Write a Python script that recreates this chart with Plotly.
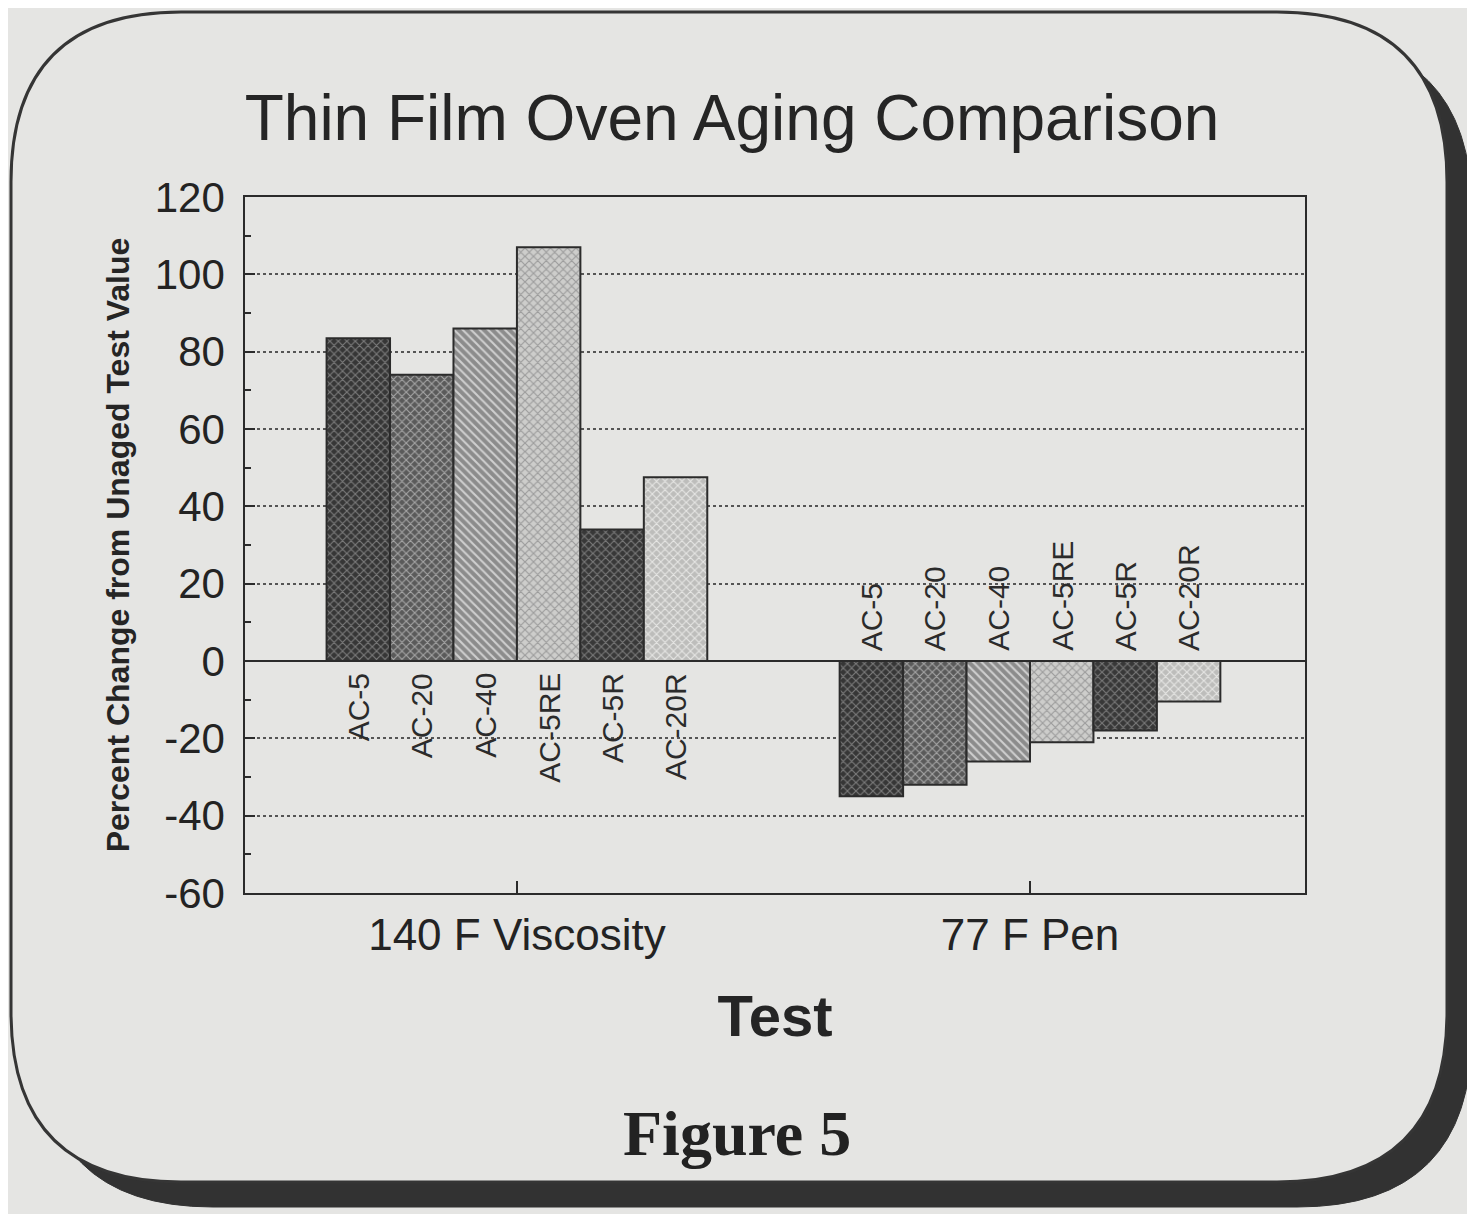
import plotly.graph_objects as go

# ---- data ----
tests = ["140 F Viscosity", "77 F Pen"]
materials = ["AC-5", "AC-20", "AC-40", "AC-5RE", "AC-5R", "AC-20R"]
viscosity_change = [83.5, 74, 86, 107, 34, 47.5]
pen_change = [-35, -32, -26, -21, -18, -10.5]
y_ticks = [120, 100, 80, 60, 40, 20, 0, -20, -40, -60]

# ---- layout geometry (page pixels; the page body adds an 8px offset) ----
OFF = 8
W, H = 1475 - OFF, 1214 - OFF
PL, PR, PT, PB = 245, 1305, 197, 893          # plot area in page pixels
ML, MR, MT, MB = PL - OFF, W - (PR - OFF), PT - OFF, H - (PB - OFF)
BG = "#e5e5e3"
INK = "#2b2b2b"
styles = {
    "AC-5":   dict(bg="#363636", fg="#7a7a7a", shape="x"),
    "AC-20":  dict(bg="#5a5a5a", fg="#a4a4a4", shape="x"),
    "AC-40":  dict(bg="#8c8c8c", fg="#cfcfcf", shape="\\"),
    "AC-5RE": dict(bg="#cdcdcb", fg="#9c9c9c", shape="x"),
    "AC-5R":  dict(bg="#383838", fg="#787878", shape="x"),
    "AC-20R": dict(bg="#bdbdbb", fg="#e6e6e4", shape="x"),
}
BARGAP = 0.258

fig = go.Figure()
for i, m in enumerate(materials):
    st = styles[m]
    fig.add_trace(go.Bar(
        name=m,
        x=list(range(len(tests))),
        y=[viscosity_change[i], pen_change[i]],
        marker=dict(
            color=st["bg"],
            line=dict(color=INK, width=2),
            pattern=dict(shape=st["shape"], fgcolor=st["fg"], bgcolor=st["bg"],
                         size=6, solidity=0.35, fillmode="replace"),
        ),
        showlegend=False,
    ))

# rotated material labels next to the zero line
n = len(materials)
slot = (1 - BARGAP) / n
annotations = []
for j, vals in enumerate([viscosity_change, pen_change]):
    for i, m in enumerate(materials):
        xpos = j + (i - (n - 1) / 2) * slot
        positive = vals[i] >= 0
        annotations.append(dict(
            x=xpos, y=0, xref="x", yref="y", text=m, showarrow=False,
            textangle=-90, font=dict(family="Arial, Liberation Sans", size=30, color=INK),
            yanchor="top" if positive else "bottom",
            yshift=-10 if positive else 8,
        ))


def pg(px, py):
    """page pixel -> paper coordinates"""
    return (px - PL) / (PR - PL), (PB - py) / (PB - PT)


cx, cy = pg(737, 1133)
annotations.append(dict(
    x=cx, y=cy, xref="paper", yref="paper", text="<b>Figure 5</b>", showarrow=False,
    font=dict(family="Liberation Serif, Times New Roman, serif", size=64, color="#222"),
    xanchor="center", yanchor="middle",
))


def rounded_path(x0, y0, x1, y1, r):
    def P(x, y):
        a, b = pg(x, y)
        return f"{a:.5f},{b:.5f}"
    return (f"M {P(x0 + r, y0)} L {P(x1 - r, y0)} Q {P(x1, y0)} {P(x1, y0 + r)} "
            f"L {P(x1, y1 - r)} Q {P(x1, y1)} {P(x1 - r, y1)} "
            f"L {P(x0 + r, y1)} Q {P(x0, y1)} {P(x0, y1 - r)} "
            f"L {P(x0, y0 + r)} Q {P(x0, y0)} {P(x0 + r, y0)} Z")


shapes = [
    dict(type="path", xref="paper", yref="paper", layer="below",
         path=rounded_path(38, 37, 1472, 1207, 175), fillcolor="#323232",
         line=dict(color="#323232", width=1)),
    dict(type="path", xref="paper", yref="paper", layer="below",
         path=rounded_path(11, 12, 1447, 1182, 170), fillcolor=BG,
         line=dict(color="#353535", width=3)),
]

fig.update_layout(
    width=W, height=H,
    margin=dict(l=ML, r=MR, t=MT, b=MB, autoexpand=False),
    paper_bgcolor=BG, plot_bgcolor="rgba(0,0,0,0)",
    barmode="group", bargap=BARGAP, bargroupgap=0,
    title=dict(text="Thin Film Oven Aging Comparison", x=(732 - OFF) / W, xanchor="center",
               y=1 - (118 - OFF) / H, yanchor="middle",
               font=dict(family="Arial, Liberation Sans", size=64, color="#252525")),
    font=dict(family="Arial, Liberation Sans", color="#232323"),
    annotations=annotations,
    shapes=shapes,
)

fig.update_xaxes(
    range=[-0.53, 1.536], tickmode="array",
    tickvals=list(range(len(tests))), ticktext=tests,
    ticks="inside", ticklen=12, tickwidth=1.5, tickcolor=INK,
    tickfont=dict(size=44), ticklabelstandoff=2,
    showline=True, mirror=True, linecolor=INK, linewidth=1.5,
    showgrid=False, zeroline=False,
    title=dict(text="<b>Test</b>", font=dict(size=58, color="#252525"), standoff=38),
)
fig.update_yaxes(
    range=[-60, 120], tickmode="array", tickvals=y_ticks,
    ticktext=[str(v) for v in y_ticks],
    ticks="inside", ticklen=10, tickwidth=1.5, tickcolor=INK,
    minor=dict(dtick=10, tick0=0, ticks="inside", ticklen=6, tickcolor=INK, showgrid=False),
    tickfont=dict(size=42), ticklabelstandoff=10,
    showline=True, mirror=True, linecolor=INK, linewidth=1.5,
    showgrid=True, gridcolor="#555555", gridwidth=1.5, griddash="dot",
    zeroline=True, zerolinecolor=INK, zerolinewidth=2,
    title=dict(text="<b>Percent Change from Unaged Test Value</b>",
               font=dict(size=32, color="#252525"), standoff=16),
)

fig.write_html("out.html")
